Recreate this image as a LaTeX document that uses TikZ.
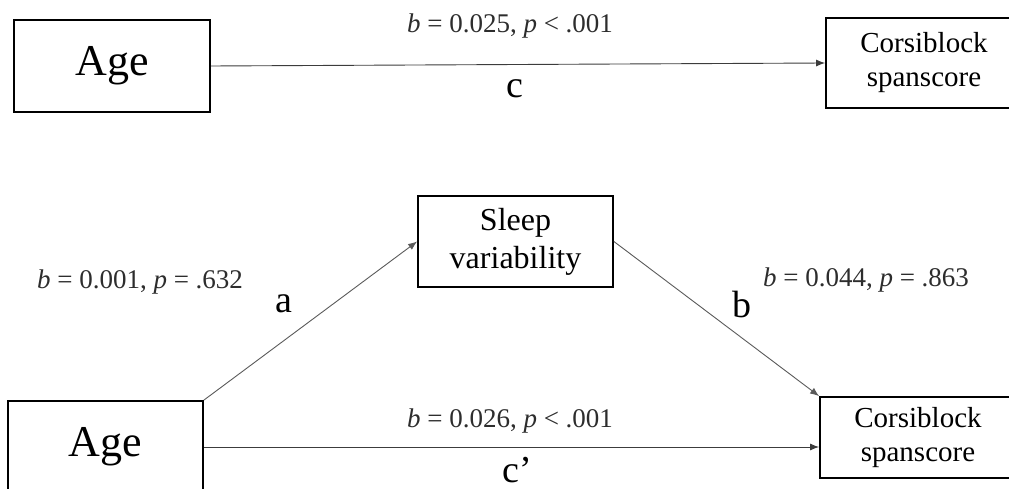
\documentclass[tikz,border=0pt]{standalone}
\usepackage{fontspec}
\setmainfont{Liberation Serif}
\usepackage{xcolor}
\definecolor{linegray}{RGB}{60, 60, 60}
\definecolor{pathgray}{RGB}{90, 90, 90}
\definecolor{statgray}{RGB}{45, 45, 45}
\usetikzlibrary{arrows.meta, positioning}

\begin{document}
\begin{tikzpicture}[x=1pt, y=-1pt, >={Latex[length=9pt, width=7pt]},
    varbox/.style={draw, line width=1.8pt, inner sep=0pt, align=center},
    effect/.style={->, line width=0.9pt},
    stat/.style={statgray, anchor=base, font=\fontsize{27}{32}\selectfont},
    letter/.style={anchor=base, font=\fontsize{38}{42}\selectfont}]
    \useasboundingbox (0,0) rectangle (1009,489);

    % total effect
    \node[varbox, minimum width=196pt, minimum height=92pt, font=\fontsize{44}{50}\selectfont] (ageT) at (112,66) {Age};
    \node[varbox, minimum width=196pt, minimum height=90pt, font=\fontsize{29}{34}\selectfont] (corsiT) at (924,63) {Corsiblock\\spanscore};
    \draw[effect, linegray] (ageT.east) -- (corsiT.west);
    \node[stat] (cStat) at (510,33) {\textit{b} = 0.025, \textit{p} < .001};
    \node[letter] (cLab) at (515,98) {c};

    % mediation model
    \node[varbox, minimum width=195pt, minimum height=91pt, font=\fontsize{32}{38}\selectfont] (sleep) at (515.5,241.5) {Sleep\\variability};
    \node[varbox, minimum width=195pt, minimum height=92pt, font=\fontsize{44}{50}\selectfont] (ageB) at (105.5,447) {Age};
    \node[varbox, minimum width=196pt, minimum height=81pt, font=\fontsize{29}{34}\selectfont] (corsiB) at (918,437.5) {Corsiblock\\spanscore};
    \draw[effect, pathgray] (ageB.north east) -- (sleep.west);
    \draw[effect, pathgray] (sleep.east) -- (corsiB.north west);
    \draw[effect, linegray] (ageB.east) -- (ageB.east -| corsiB.west);
    \node[stat] (aStat) at (140,288) {\textit{b} = 0.001, \textit{p} = .632};
    \node[letter] (aLab) at (284,312) {a};
    \node[letter] (bLab) at (742,317) {b};
    \node[stat] (bStat) at (866,286) {\textit{b} = 0.044, \textit{p} = .863};
    \node[stat] (cpStat) at (510,427) {\textit{b} = 0.026, \textit{p} < .001};
    \node[letter] (cpLab) at (517,482) {c’};
\end{tikzpicture}
\end{document}
